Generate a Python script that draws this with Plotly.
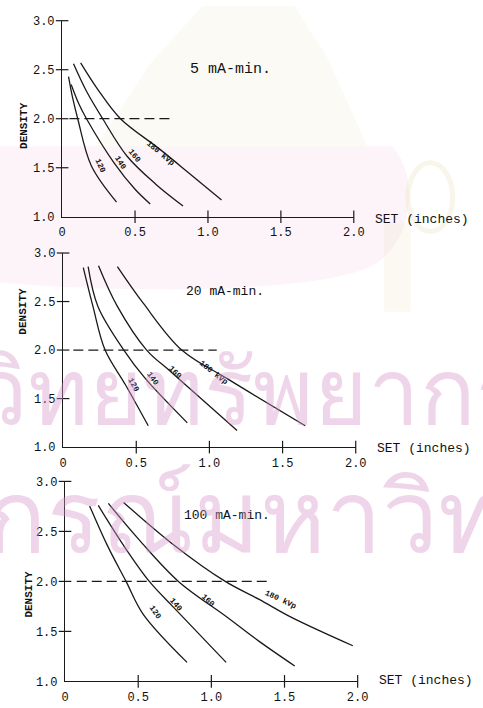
import plotly.graph_objects as go

FONT = "Liberation Mono, Courier New, monospace"
INK = "#1a1a1a"
TXT = "#111111"
W, H = 483, 708

kvp_names = ["120", "140", "160", "180 kVp"]
x_ticks = [0, 0.5, 1.0, 1.5, 2.0]
x_ticktext = ["0", "0.5", "1.0", "1.5", "2.0"]
y_ticks = [1.0, 1.5, 2.0, 2.5, 3.0]
y_ticktext = ["1.0", "1.5", "2.0", "2.5", "3.0"]

# ---- 5 mA-min ----
set_5 = {
    "120": [0.044, 0.071, 0.107, 0.20, 0.373],
    "140": [0.062, 0.115, 0.167, 0.356, 0.50, 0.604],
    "160": [0.078, 0.167, 0.278, 0.444, 0.644, 0.829],
    "180 kVp": [0.127, 0.244, 0.40, 0.66, 0.85, 1.093],
}
dens_5 = {
    "120": [2.43, 2.22, 2.00, 1.52, 1.15],
    "140": [2.35, 2.15, 2.00, 1.55, 1.28, 1.13],
    "160": [2.56, 2.28, 2.00, 1.62, 1.33, 1.11],
    "180 kVp": [2.57, 2.30, 2.00, 1.70, 1.47, 1.17],
}
# ---- 20 mA-min ----
set_20 = {
    "120": [0.138, 0.204, 0.287, 0.427, 0.582],
    "140": [0.171, 0.238, 0.415, 0.56, 0.849],
    "160": [0.242, 0.371, 0.571, 0.738, 1.189],
    "180 kVp": [0.371, 0.549, 0.811, 1.127, 1.655],
}
dens_20 = {
    "120": [2.85, 2.45, 2.00, 1.64, 1.22],
    "140": [2.86, 2.45, 2.00, 1.71, 1.25],
    "160": [2.87, 2.45, 2.00, 1.775, 1.17],
    "180 kVp": [2.86, 2.48, 2.00, 1.70, 1.22],
}
# ---- 100 mA-min ----
set_100 = {
    "120": [0.168, 0.289, 0.417, 0.532, 0.834],
    "140": [0.227, 0.40, 0.576, 0.742, 1.101],
    "160": [0.296, 0.51, 0.775, 1.106, 1.327, 1.57],
    "180 kVp": [0.40, 0.73, 1.095, 1.327, 1.548, 1.967],
}
dens_100 = {
    "120": [2.755, 2.36, 2.00, 1.676, 1.19],
    "140": [2.76, 2.36, 2.00, 1.74, 1.19],
    "160": [2.78, 2.41, 2.00, 1.644, 1.40, 1.154],
    "180 kVp": [2.79, 2.38, 2.00, 1.82, 1.64, 1.356],
}

# reference density 2.0 guide (x extent)
guide_5 = [0.05, 0.745]
guide_20 = [0.07, 1.05]
guide_100 = [0.08, 1.38]

# curve label anchors: (x, density, angle)
lab_5 = {"120": (0.262, 1.52, 65), "140": (0.40, 1.55, 58),
         "160": (0.495, 1.62, 52), "180 kVp": (0.68, 1.65, 40)}
lab_20 = {"120": (0.48, 1.64, 62), "140": (0.615, 1.71, 55),
          "160": (0.77, 1.77, 45), "180 kVp": (1.03, 1.77, 38)}
lab_100 = {"120": (0.62, 1.69, 55), "140": (0.76, 1.77, 50),
           "160": (0.98, 1.81, 42), "180 kVp": (1.477, 1.82, 25)}

panels = [
    dict(title="5 mA-min.", tsize=15, tx=0.86, ty=2.5, xs=set_5, ys=dens_5,
         guide=guide_5, labs=lab_5, px=(60, 361), py=(15, 215), dens_y=1.93,
         dens_x=20, set_dy=-3),
    dict(title="20 mA-min.", tsize=13, tx=0.827, ty=2.6, xs=set_20, ys=dens_20,
         guide=guide_20, labs=lab_20, px=(61, 363), py=(252, 450), dens_y=2.4,
         dens_x=20, set_dy=-1),
    dict(title="100 mA-min.", tsize=13, tx=0.797, ty=2.66, xs=set_100, ys=dens_100,
         guide=guide_100, labs=lab_100, px=(63, 365), py=(485, 689), dens_y=1.87,
         dens_x=26, set_dy=1),
]

fig = go.Figure()
annotations = []

for i, p in enumerate(panels, start=1):
    xa = "x" if i == 1 else f"x{i}"
    ya = "y" if i == 1 else f"y{i}"
    for k in kvp_names:
        fig.add_trace(go.Scatter(
            x=p["xs"][k], y=p["ys"][k], xaxis=xa, yaxis=ya, mode="lines",
            line=dict(color=INK, width=1.3, shape="spline", smoothing=1.0),
            hoverinfo="skip", showlegend=False))
    fig.add_trace(go.Scatter(
        x=p["guide"], y=[2.0, 2.0], xaxis=xa, yaxis=ya, mode="lines",
        line=dict(color=INK, width=1.2, dash="10px,5px"),
        hoverinfo="skip", showlegend=False))
    # crossing tick marks
    fig.add_trace(go.Scatter(
        x=x_ticks[1:], y=[1.0] * (len(x_ticks) - 1), xaxis=xa, yaxis=ya,
        mode="markers", cliponaxis=False,
        marker=dict(symbol="line-ns", size=9, line=dict(color=INK, width=1.2)),
        hoverinfo="skip", showlegend=False))
    fig.add_trace(go.Scatter(
        x=[0] * (len(y_ticks) - 1), y=y_ticks[1:], xaxis=xa, yaxis=ya,
        mode="markers", cliponaxis=False,
        marker=dict(symbol="line-ew", size=9, line=dict(color=INK, width=1.2)),
        hoverinfo="skip", showlegend=False))

    x0, x1 = p["px"]
    y0, y1 = p["py"]
    axis_common = dict(showgrid=False, zeroline=False, showline=True,
                       linecolor=INK, linewidth=1.3, ticks="",
                       ticklabelstandoff=4,
                       tickfont=dict(family=FONT, size=12, color=TXT))
    fig.update_layout(**{
        ("xaxis" if i == 1 else f"xaxis{i}"): dict(
            domain=[x0 / W, x1 / W], range=[0, 2.0], anchor=ya,
            tickvals=x_ticks, ticktext=x_ticktext, **axis_common),
        ("yaxis" if i == 1 else f"yaxis{i}"): dict(
            domain=[1 - y1 / H, 1 - y0 / H], range=[1.0, 3.0], anchor=xa,
            tickvals=y_ticks, ticktext=y_ticktext, **axis_common),
    })

    annotations.append(dict(text=p["title"], x=p["tx"], y=p["ty"], xref=xa, yref=ya,
                            xanchor="left", yanchor="middle", showarrow=False,
                            font=dict(family=FONT, size=p["tsize"], color=TXT)))
    annotations.append(dict(text="SET (inches)", x=2.0, y=1.0, xref=xa, yref=ya,
                            xanchor="left", yanchor="middle", xshift=19,
                            yshift=p["set_dy"], showarrow=False,
                            font=dict(family=FONT, size=13, color=TXT)))
    annotations.append(dict(text="<b>DENSITY</b>", x=p["dens_x"] / W, y=p["dens_y"],
                            xref="paper", yref=ya, xanchor="center",
                            yanchor="middle", textangle=-90, showarrow=False,
                            font=dict(family=FONT, size=11, color=TXT)))
    for k in kvp_names:
        lx, ly, ang = p["labs"][k]
        annotations.append(dict(text=f"<b>{k}</b>", x=lx, y=ly, xref=xa, yref=ya,
                                xanchor="center", yanchor="middle",
                                textangle=ang, showarrow=False,
                                font=dict(family=FONT, size=8, color=TXT)))

# faint library watermark: text rows
WM = "rgba(215,150,200,0.40)"
annotations.append(dict(text="ศูนย์วิทยทรัพยากร", x=540 / W, y=1 - 390 / H,
                        xref="paper", yref="paper", xanchor="right",
                        yanchor="middle", showarrow=False,
                        font=dict(family="Noto Sans", size=92, color=WM)))
annotations.append(dict(text="จุฬาลงกรณ์มหาวิทยาลัย", x=18 / W, y=1 - 517 / H,
                        xref="paper", yref="paper", xanchor="left",
                        yanchor="middle", showarrow=False, xshift=-330,
                        font=dict(family="Noto Sans", size=100, color=WM)))


def pxpath(cmds):
    """Build an SVG path in paper coordinates from pixel-space commands."""
    out = []
    for c, pts in cmds:
        out.append(c + " ".join(f"{x / W:.4f},{1 - y / H:.4f}" for x, y in pts))
    return " ".join(out) + " Z"


# faint emblem behind the top panel: pink cushion, pale crest, tassel
shapes = [
    dict(type="path", xref="paper", yref="paper", layer="below", line_width=0,
         fillcolor="rgba(240,200,220,0.20)",
         path=pxpath([("M", [(-5, 143)]), ("L", [(400, 143)]),
                      ("C", [(428, 170), (425, 240), (380, 265)]),
                      ("C", [(320, 295), (100, 292), (-5, 282)])])),
    dict(type="path", xref="paper", yref="paper", layer="below", line_width=0,
         fillcolor="rgba(232,222,185,0.15)",
         path=pxpath([("M", [(205, 0)]), ("L", [(300, 0)]), ("L", [(335, 55)]),
                      ("L", [(375, 143)]), ("L", [(95, 143)]), ("L", [(150, 60)])])),
    dict(type="circle", xref="paper", yref="paper", layer="below",
         line=dict(color="rgba(232,222,185,0.30)", width=5),
         x0=417 / W, x1=463 / W, y0=1 - 230 / H, y1=1 - 160 / H),
    dict(type="rect", xref="paper", yref="paper", layer="below", line_width=0,
         fillcolor="rgba(232,222,185,0.18)",
         x0=392 / W, x1=420 / W, y0=1 - 312 / H, y1=1 - 222 / H),
]

fig.update_layout(width=W, height=H, margin=dict(l=0, r=0, t=0, b=0),
                  paper_bgcolor="white", plot_bgcolor="rgba(0,0,0,0)",
                  annotations=annotations, shapes=shapes, showlegend=False)

fig.write_html("out.html",
               post_script="document.body.style.margin='0';"
                           "document.body.style.overflow='hidden';")
